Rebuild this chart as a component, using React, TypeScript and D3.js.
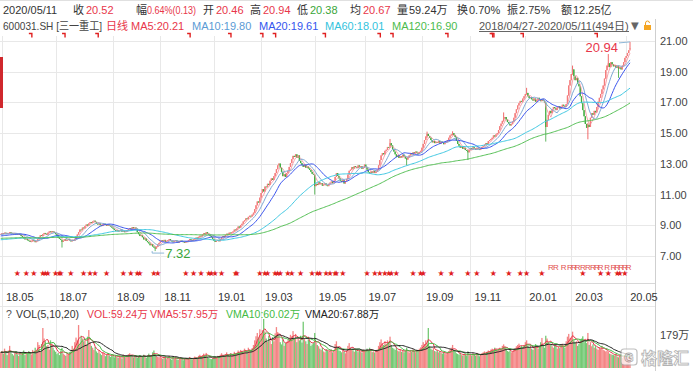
import React, { useEffect, useRef } from 'react';
import * as d3 from 'd3';

const W = 693, H = 371;
const FONT = "'Liberation Sans', 'Noto Sans CJK SC', sans-serif";
const RED = '#e8364a', GREEN = '#3aa63a';

// trading days per month, 2018-04 .. 2020-05 (494 days)
const monthDays = [1, 22, 20, 22, 23, 19, 18, 22, 20, 22, 15, 21, 21, 20, 19, 23, 22, 20, 18, 21, 22, 16, 20, 22, 21, 4];
// axis labels sit on every second month, starting at 2018-05
const tickLabels = ['18.05', '18.07', '18.09', '18.11', '19.01', '19.03', '19.05', '19.07', '19.09', '19.11', '20.01', '20.03', '20.05'];
const priceTicks = [7, 9, 11, 13, 15, 17, 19, 21];

// daily closes
const closes = [
  8.42,
  // 2018-05
  8.48, 8.45, 8.52, 8.50, 8.44, 8.47, 8.55, 8.50, 8.46, 8.42, 8.48, 8.45, 8.40, 8.43, 8.38, 8.30, 8.22, 8.15, 8.08, 8.12, 8.02, 7.98,
  // 2018-06
  7.92, 7.95, 8.05, 7.98, 7.90, 7.96, 8.10, 8.22, 8.35, 8.30, 8.42, 8.50, 8.45, 8.38, 8.52, 8.60, 8.55, 8.62, 8.58, 8.50,
  // 2018-07
  8.42, 8.35, 8.20, 8.12, 8.05, 7.92, 8.00, 8.08, 7.98, 8.05, 8.12, 8.02, 7.95, 8.05, 7.98, 8.10, 8.25, 8.40, 8.55, 8.72, 8.68, 8.85,
  // 2018-08
  8.80, 8.95, 9.05, 8.98, 9.12, 9.20, 9.15, 9.25, 9.30, 9.22, 9.10, 9.05, 9.12, 9.00, 8.95, 9.05, 9.10, 9.02, 8.96, 9.05, 8.98, 8.92, 8.85,
  // 2018-09
  8.78, 8.70, 8.62, 8.68, 8.60, 8.65, 8.72, 8.58, 8.62, 8.55, 8.60, 8.68, 8.75, 8.82, 8.78, 8.88, 8.80, 8.85, 8.78,
  // 2018-10
  8.55, 8.42, 8.30, 8.35, 8.22, 8.08, 8.15, 7.98, 7.90, 7.82, 7.70, 7.78, 7.62, 7.55, 7.48, 7.60, 7.75, 7.85,
  // 2018-11
  7.95, 8.02, 7.98, 8.05, 7.92, 7.96, 8.04, 8.10, 8.00, 7.95, 7.90, 7.98, 8.02, 7.94, 7.88, 7.92, 8.00, 7.96, 7.90, 7.86, 7.92, 7.95,
  // 2018-12
  8.02, 8.10, 8.05, 7.98, 8.08, 8.15, 8.20, 8.12, 8.25, 8.32, 8.28, 8.40, 8.48, 8.42, 8.55, 8.45, 8.38, 8.30, 8.22, 8.10,
  // 2019-01
  8.00, 7.92, 7.98, 8.05, 7.96, 8.10, 8.22, 8.30, 8.25, 8.38, 8.45, 8.40, 8.52, 8.48, 8.55, 8.60, 8.72, 8.68, 8.80, 8.92, 8.85, 9.02,
  // 2019-02
  9.10, 9.25, 9.32, 9.45, 9.40, 9.55, 9.62, 9.58, 9.70, 9.82, 10.05, 10.30, 10.55, 10.48, 10.80,
  // 2019-03
  11.10, 11.35, 11.20, 11.52, 11.48, 11.70, 11.62, 11.90, 12.05, 11.95, 12.20, 12.40, 12.65, 12.90, 13.02, 12.75, 12.48, 12.20, 12.32, 12.15, 12.40,
  // 2019-04
  12.55, 12.80, 13.05, 13.30, 13.52, 13.45, 13.62, 13.40, 13.55, 13.20, 13.05, 12.92, 12.80, 12.95, 12.75, 12.82, 12.70, 12.60, 12.48, 12.35, 12.30,
  // 2019-05
  11.55, 11.70, 11.62, 11.80, 11.68, 11.75, 11.58, 11.65, 11.72, 11.60, 11.55, 11.70, 11.78, 11.85, 11.75, 11.90, 12.15, 12.40, 12.22, 12.05,
  // 2019-06
  11.90, 11.82, 11.95, 11.72, 11.88, 12.02, 12.30, 12.55, 12.62, 12.78, 12.70, 12.85, 12.80, 12.72, 12.90, 12.78, 12.85, 12.68, 12.75,
  // 2019-07
  12.95, 12.80, 12.62, 12.45, 12.38, 12.50, 12.42, 12.55, 12.40, 12.48, 12.62, 12.90, 13.25, 13.55, 13.70, 13.62, 13.85, 13.92, 14.10, 14.05, 14.35, 14.20, 13.95,
  // 2019-08
  13.80, 13.62, 13.45, 13.55, 13.38, 13.50, 13.42, 13.60, 13.48, 13.35, 13.28, 13.42, 13.55, 13.70, 13.62, 13.75, 13.68, 13.80, 13.72, 13.65, 13.78, 13.85,
  // 2019-09
  14.05, 14.30, 14.55, 14.78, 14.95, 14.82, 14.70, 14.55, 14.40, 14.48, 14.35, 14.42, 14.38, 14.50, 14.32, 14.45, 14.40, 14.28, 14.36, 14.45,
  // 2019-10
  14.55, 14.70, 14.85, 14.92, 15.00, 14.88, 14.75, 14.50, 14.30, 14.18, 14.05, 14.12, 13.98, 14.05, 13.90, 13.85, 13.75, 13.92,
  // 2019-11
  14.02, 13.95, 14.08, 14.00, 13.92, 14.05, 13.98, 13.90, 14.02, 14.10, 14.15, 14.25, 14.35, 14.30, 14.48, 14.55, 14.62, 14.70, 14.85, 14.78, 14.92,
  // 2019-12
  15.00, 15.20, 15.45, 15.62, 15.80, 15.95, 16.05, 15.88, 15.72, 15.60, 15.50, 15.58, 15.75, 16.00, 16.30, 16.55, 16.80, 16.95, 17.10, 17.05, 17.25, 17.40,
  // 2020-01
  17.55, 17.62, 17.40, 17.28, 17.35, 17.20, 17.12, 17.25, 17.05, 17.15, 17.30, 17.18, 17.08, 17.22, 17.12, 17.00,
  // 2020-02
  15.40, 15.85, 16.20, 16.45, 16.30, 16.55, 16.70, 16.62, 16.50, 16.68, 16.75, 16.60, 16.72, 16.85, 16.78, 16.70, 16.90, 17.45, 18.10, 18.45,
  // 2020-03
  18.85, 19.15, 18.70, 18.45, 18.60, 18.20, 18.05, 17.40, 16.95, 16.50, 16.10, 15.60, 15.35, 15.55, 15.40, 16.00, 16.30, 16.20, 16.45, 16.35, 16.70, 17.05,
  // 2020-04
  17.30, 17.55, 17.85, 18.10, 18.55, 19.10, 19.40, 19.55, 19.30, 19.62, 19.48, 19.35, 19.42, 19.25, 19.38, 19.20, 19.30, 19.15, 19.40, 19.62, 19.90,
  // 2020-05
  20.02, 20.22, 20.39, 20.52,
];

// daily volume, 万股
const volumes = [
  85,
  92, 78, 105, 88, 70, 95, 120, 85, 76, 68, 82, 90, 74, 66, 80, 72, 88, 95, 70, 84, 78, 92,
  86, 74, 98, 80, 110, 95, 140, 125, 90, 130, 217, 160, 145, 118, 125, 100, 150, 132, 110, 96,
  88, 75, 82, 70, 95, 110, 78, 72, 66, 80, 74, 85, 90, 120, 105, 140, 165, 150, 233, 130, 175, 160,
  145, 150, 128, 170, 206, 138, 120, 110, 98, 115, 90, 82, 95, 78, 70, 85, 76, 64, 72, 80, 68, 60, 74,
  65, 58, 70, 62, 55, 68, 60, 52, 72, 66, 58, 63, 75, 80, 70, 64, 58, 66, 60,
  55, 62, 70, 58, 65, 72, 60, 55, 68, 78, 62, 70, 85, 95, 72, 66, 60, 58,
  64, 55, 50, 58, 62, 48, 56, 66, 52, 45, 58, 50, 62, 47, 44, 52, 58, 48, 42, 50, 55, 46,
  52, 60, 48, 45, 55, 62, 58, 50, 66, 72, 60, 70, 78, 64, 82, 60, 55, 50, 48, 52,
  58, 62, 55, 66, 60, 72, 80, 68, 62, 75, 85, 70, 66, 80, 76, 72, 88, 78, 82, 95, 85, 98,
  90, 88, 105, 96, 82, 110, 98, 92, 108, 125, 150, 172, 190, 165, 210,
  185, 205, 266, 198, 160, 142, 175, 150, 130, 168, 145, 188, 222, 195, 170, 140, 128, 155, 120, 135, 142,
  150, 165, 180, 172, 200, 158, 185, 140, 162, 150, 175, 138, 251, 160, 145, 130, 155, 148, 120, 128, 135,
  190, 140, 125, 118, 105, 98, 110, 90, 85, 102, 95, 88, 92, 100, 85, 96, 130, 145, 110, 95,
  92, 85, 98, 88, 80, 95, 120, 135, 110, 100, 96, 88, 105, 92, 86, 98, 90, 84, 100,
  95, 88, 105, 92, 110, 98, 86, 90, 84, 95, 100, 120, 140, 155, 135, 125, 145, 130, 150, 142, 170, 125, 110,
  105, 98, 112, 95, 90, 102, 88, 96, 85, 92, 110, 90, 84, 95, 88, 100, 92, 86, 98, 90, 105, 112,
  125, 140, 130, 150, 135, 217, 120, 105, 98, 110, 92, 88, 95, 85, 90, 82, 78, 88, 80, 75,
  85, 92, 100, 110, 125, 95, 88, 80, 76, 72, 82, 70, 68, 75, 72, 65, 90, 70,
  72, 68, 78, 75, 66, 82, 70, 64, 76, 80, 85, 90, 78, 88, 95, 92, 100, 105, 98, 110, 102,
  95, 105, 110, 98, 120, 128, 115, 100, 92, 88, 96, 85, 90, 98, 108, 118, 125, 132, 115, 120, 110, 125,
  140, 150, 120, 110, 125, 105, 98, 112, 130, 118, 105, 115, 140, 163, 125, 110,
  175, 160, 140, 130, 125, 118, 110, 128, 120, 105, 115, 108, 125, 132, 118, 110, 145, 170, 185, 160,
  165, 197, 150, 138, 145, 120, 130, 155, 160, 172, 140, 150, 135, 190, 125, 140, 118, 128, 110, 120, 105, 98,
  112, 105, 120, 98, 95, 90, 95, 88, 78, 75, 72, 70, 68, 75, 62, 58, 66, 72, 55, 60, 64,
  58, 54, 56, 59.24,
];

// long shadows visible on the chart: [day index, high, low]
const shadows = [
  [48, 8.02, 7.55], [121, 7.62, 7.32], [246, 12.10, 11.00], [305, 14.62, 14.15],
  [318, 13.40, 12.90], [334, 15.10, 14.70], [354, 15.12, 14.85], [366, 13.90, 13.25],
  [394, 16.35, 15.75], [412, 17.95, 17.50], [427, 15.90, 14.45], [448, 19.40, 18.80],
  [460, 15.65, 14.60], [476, 20.15, 19.30], [484, 19.40, 18.60], [493, 20.94, 20.38],
];
const lastOpen = 20.46;

const maPeriods = [5, 10, 20, 60, 120];
const maColors = [RED, '#5b9bd5', '#3355ee', '#33c3dd', '#4cbb4c'];
const maLineColors = ['#f28a96', '#7ea8d4', '#3b55ee', '#40c8e2', '#55c055'];
const maSeeds = [8.45, 8.4, 8.3, 8.05, 8.15];

const starIdx = [13, 20, 26, 33, 35, 37, 43, 46, 47, 55, 65, 70, 74, 83, 96, 102, 107, 109, 120, 123,
  145, 151, 157, 163, 165, 168, 173, 184, 185, 203, 207, 209, 215, 217, 219, 225, 228, 235, 244, 248,
  250, 255, 258, 262, 263, 268, 287, 293, 297, 301, 304, 306, 310, 323, 329, 331, 345, 353, 366, 373,
  386, 398, 407, 412, 424, 456, 470, 476, 483, 485, 489];
const rIdx = [431, 435, 441, 446, 449, 452, 456, 460, 464, 467, 470, 475, 480, 483, 486, 489, 492];
const infoIdx = [24, 50, 76, 148, 180, 205, 215, 254, 297, 307, 350, 385, 386, 409, 467];

// [text, x, colour, fitted width (0 = natural)]
const row1 = [
  ['2020/05/11', 3, '#333', 0], ['收', 73, '#333', 0], ['20.52', 86, RED, 0], ['幅', 136, '#333', 0], ['0.64%(0.13)', 147, RED, 49],
  ['开', 203, '#333', 0], ['20.46', 216, RED, 0], ['高', 250, '#333', 0], ['20.94', 263, RED, 0], ['低', 297, '#333', 0], ['20.38', 310, GREEN, 0],
  ['均', 350, '#333', 0], ['20.67', 363, RED, 0], ['量', 397, '#333', 0], ['59.24万', 409, '#333', 0], ['换', 457, '#333', 0], ['0.70%', 469, '#333', 0],
  ['振', 507, '#333', 0], ['2.75%', 519, '#333', 0], ['额', 561, '#333', 0], ['12.25亿', 573, '#333', 0],
];
const row2 = [
  ['600031.SH [三一重工]', 3, '#444', 99], ['日线', 106, RED, 0], ['MA5:20.21', 131, RED, 0], ['MA10:19.80', 192, maColors[1], 0],
  ['MA20:19.61', 259, maColors[2], 0], ['MA60:18.01', 325, maColors[3], 0], ['MA120:16.90', 392, maColors[4], 0],
];
const volLegend = [
  ['?', 6, '#555', 0], ['VOL(5,10,20)', 16, '#333', 0], ['VOL:59.24万', 87, RED, 0], ['VMA5:57.95万', 150, RED, 0],
  ['VMA10:60.02万', 226, '#44bb44', 0], ['VMA20:67.88万', 305, '#222', 0],
];

function movingAvg(values, n, seed) {
  return values.map((_, i) => {
    let s = 0;
    for (let k = i - n + 1; k <= i; k++) s += k < 0 ? (seed ?? values[0]) : values[k];
    return s / n;
  });
}

export default function App() {
  const svgRef = useRef(null);

  useEffect(() => {
    const svg = d3.select(svgRef.current);
    svg.selectAll('*').remove();

    const n = closes.length;
    const plotRight = 655;
    const x = d3.scaleLinear().domain([0, n - 1]).range([0.72, 630]);
    const y = d3.scaleLinear().domain([7, 21]).range([256, 41]);
    const yv = d3.scaleLinear().domain([0, 179]).range([368, 335]);

    const opens = closes.map((c, i) => (i === 0 ? c : closes[i - 1]));
    opens[n - 1] = lastOpen;
    const highs = closes.map((c, i) => Math.max(c, opens[i]));
    const lows = closes.map((c, i) => Math.min(c, opens[i]));
    shadows.forEach(([i, h, l]) => { highs[i] = h; lows[i] = l; });

    // month start indices for the date ticks
    const starts = d3.cumsum([0, ...monthDays]);
    const ticks = tickLabels.map((t, k) => ({ label: t, idx: starts[1 + 2 * k] }));

    svg.append('rect').attr('width', W).attr('height', H).attr('fill', '#fff');

    // grid
    const grid = svg.append('g').attr('stroke', '#e8e8e8').attr('stroke-width', 1);
    priceTicks.forEach(p => {
      grid.append('line').attr('x1', 0).attr('x2', plotRight)
        .attr('y1', Math.round(y(p)) + 0.5).attr('y2', Math.round(y(p)) + 0.5);
    });
    ticks.forEach(t => {
      const xx = Math.round(x(t.idx)) + 0.5;
      grid.append('line').attr('x1', xx).attr('x2', xx).attr('y1', 36).attr('y2', 368);
    });
    svg.append('line').attr('x1', 0).attr('x2', plotRight).attr('y1', 283.5).attr('y2', 283.5).attr('stroke', '#d8d8d8');
    svg.append('line').attr('x1', 0).attr('x2', plotRight).attr('y1', 306.5).attr('y2', 306.5).attr('stroke', '#e8e8e8');
    svg.append('line').attr('x1', 0).attr('x2', W).attr('y1', 0.5).attr('y2', 0.5).attr('stroke', '#e0e0e0');
    svg.append('line').attr('x1', plotRight + 0.5).attr('x2', plotRight + 0.5).attr('y1', 19).attr('y2', H).attr('stroke', '#cfcfcf');

    // candles
    const candles = svg.append('g');
    closes.forEach((c, i) => {
      const up = c >= opens[i];
      const cx = x(i);
      candles.append('line').attr('x1', cx).attr('x2', cx).attr('y1', y(highs[i])).attr('y2', y(lows[i]))
        .attr('stroke', up ? '#ee4444' : GREEN).attr('stroke-width', 0.8);
      const top = y(Math.max(c, opens[i])), bot = y(Math.min(c, opens[i]));
      candles.append('rect').attr('x', cx - 0.65).attr('width', 1.3)
        .attr('y', top).attr('height', Math.max(0.8, bot - top))
        .attr('fill', up ? '#f47c7c' : '#3fae3f');
    });

    // moving averages
    maPeriods.forEach((p, k) => {
      const ma = movingAvg(closes, p, maSeeds[k]);
      svg.append('path').datum(ma)
        .attr('d', d3.line().x((_, i) => x(i)).y(d => y(d)))
        .attr('fill', 'none').attr('stroke', maLineColors[k]).attr('stroke-width', k === 0 ? 0.8 : 1);
    });

    // high / low markers
    const iMin = d3.minIndex(lows), iMax = d3.maxIndex(highs);
    svg.append('path')
      .attr('d', `M${x(iMin) - 3},${y(lows[iMin])} v2 h12`)
      .attr('fill', 'none').attr('stroke', '#8fb8d8').attr('stroke-width', 1);
    svg.append('text').attr('x', x(iMin) + 10).attr('y', y(lows[iMin]) + 7)
      .attr('fill', GREEN).attr('font-size', 13).attr('font-family', FONT).text(d3.format('.2f')(lows[iMin]));
    svg.append('path')
      .attr('d', `M${x(iMax) - 11},${y(highs[iMax]) + 1} L${x(iMax)},${y(highs[iMax])}`)
      .attr('fill', 'none').attr('stroke', '#8fb8d8').attr('stroke-width', 1);
    svg.append('text').attr('x', x(iMax) - 12).attr('y', y(highs[iMax]) + 10).attr('text-anchor', 'end')
      .attr('fill', RED).attr('font-size', 13).attr('font-family', FONT).text(d3.format('.2f')(highs[iMax]));

    // event stars and R markers
    starIdx.forEach(i => {
      svg.append('text').attr('x', x(i)).attr('y', 276).attr('text-anchor', 'middle')
        .attr('fill', '#e02020').attr('font-size', 8).attr('font-family', 'DejaVu Sans').text('★');
    });
    rIdx.forEach(i => {
      svg.append('text').attr('x', x(i)).attr('y', 269.5).attr('text-anchor', 'middle')
        .attr('fill', '#e25050').attr('font-size', 8).attr('font-family', FONT).text('R');
    });
    infoIdx.forEach(i => {
      svg.append('path').attr('d', `M${x(i) - 2.5},33.5 h3 v4`)
        .attr('fill', 'none').attr('stroke', '#e02020').attr('stroke-width', 1.4);
    });

    // price axis
    priceTicks.forEach(p => {
      svg.append('text').attr('x', 660).attr('y', y(p) + 4).attr('fill', '#444')
        .attr('font-size', 11).attr('font-family', FONT).text(d3.format('.2f')(p));
    });

    // date axis
    ticks.forEach(t => {
      svg.append('text').attr('x', x(t.idx) + 4).attr('y', 300.5).attr('fill', '#333')
        .attr('font-size', 11).attr('font-family', FONT).text(t.label);
    });

    // volume
    const vol = svg.append('g');
    volumes.forEach((v, i) => {
      const up = closes[i] >= opens[i];
      vol.append('rect').attr('x', x(i) - 0.65).attr('width', 1.3)
        .attr('y', yv(v)).attr('height', yv(0) - yv(v))
        .attr('fill', up ? '#f27070' : '#5cbf5c').attr('opacity', 0.85);
    });
    [5, 10, 20].forEach((p, k) => {
      const ma = movingAvg(volumes, p, undefined);
      svg.append('path').datum(ma)
        .attr('d', d3.line().x((_, i) => x(i)).y(d => yv(d)))
        .attr('fill', 'none').attr('stroke', [RED, '#44bb44', '#222'][k]).attr('stroke-width', 1);
    });
    svg.append('text').attr('x', 660).attr('y', 339).attr('fill', '#444')
      .attr('font-size', 11).attr('font-family', FONT).text('179万');

    // header rows
    const txt = (rows, yy, size) => rows.forEach(([t, xx, c, len]) => {
      const el = svg.append('text').attr('x', xx).attr('y', yy).attr('fill', c)
        .attr('font-size', size).attr('font-family', FONT).text(t);
      if (len) el.attr('textLength', len).attr('lengthAdjust', 'spacingAndGlyphs');
    });
    txt(row1, 13.5, 11);
    txt(row2, 29.5, 11);
    txt(volLegend, 317.5, 10.5);

    svg.append('text').attr('x', 479).attr('y', 29.5).attr('fill', '#555')
      .attr('font-size', 11).attr('font-family', FONT).text('2018/04/27-2020/05/11(494日)');
    svg.append('line').attr('x1', 479).attr('x2', 629).attr('y1', 31.5).attr('y2', 31.5).attr('stroke', '#666');
    svg.append('text').attr('x', 631).attr('y', 29).attr('fill', '#666')
      .attr('font-size', 10).attr('font-family', 'DejaVu Sans').text('▼');
    svg.append('path').attr('d', 'M645.5,25 v-2 a2,2 0 0 1 4,0').attr('fill', 'none').attr('stroke', '#f0a020').attr('stroke-width', 1);
    svg.append('rect').attr('x', 644).attr('y', 25).attr('width', 7).attr('height', 5).attr('fill', '#f5a623');

    // left red marker
    svg.append('rect').attr('x', 0).attr('y', 57).attr('width', 3).attr('height', 51).attr('fill', '#d0282d');

    // watermark
    const wm = svg.append('g').attr('opacity', 0.75);
    wm.append('rect').attr('x', 621).attr('y', 349).attr('width', 16).attr('height', 16).attr('rx', 3)
      .attr('fill', '#fff').attr('stroke', '#aaa').attr('stroke-width', 1.2);
    wm.append('text').attr('x', 629).attr('y', 362).attr('text-anchor', 'middle').attr('font-size', 12)
      .attr('font-family', FONT).attr('font-weight', 700).attr('fill', '#fff').attr('stroke', '#999').attr('stroke-width', 0.8).text('G');
    wm.append('text').attr('x', 641).attr('y', 364).attr('font-size', 16).attr('font-weight', 700)
      .attr('font-family', "'Noto Sans CJK SC', sans-serif").attr('fill', '#fff').attr('stroke', '#9a9a9a').attr('stroke-width', 0.8).text('格隆汇');
  }, []);

  return (
    <svg ref={svgRef} width={W} height={H}
      style={{ position: 'absolute', left: 0, top: 0, display: 'block' }} />
  );
}
